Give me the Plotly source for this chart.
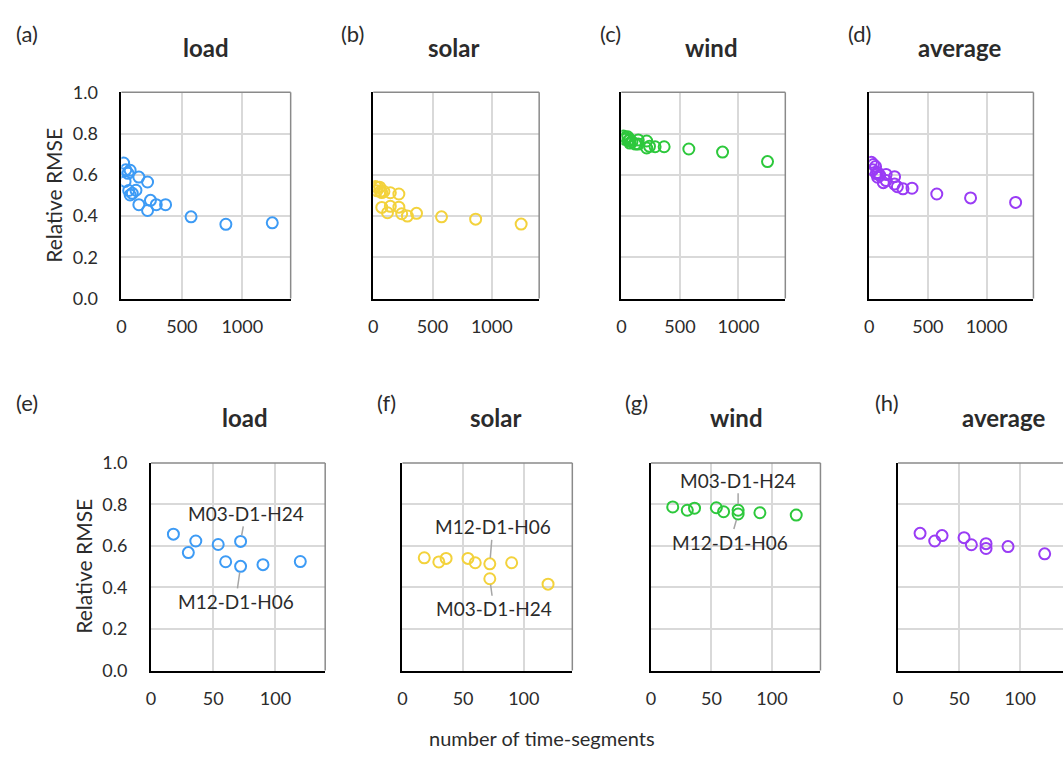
import plotly.graph_objects as go

W, H = 1063, 765
FONT = "Lato"
TEXT = "#2b2b2b"

# number of time-segments of each configuration
segments = [18, 30, 36, 54, 60, 72, 72, 90, 120, 144, 144, 216, 216, 240, 288, 365, 576, 864, 1248]

# relative RMSE per configuration
load = [0.657, 0.568, 0.624, 0.607, 0.524, 0.622, 0.502, 0.510, 0.525, 0.589,
        0.455, 0.565, 0.427, 0.476, 0.455, 0.455, 0.396, 0.360, 0.367]
solar = [0.543, 0.523, 0.540, 0.540, 0.519, 0.442, 0.514, 0.519, 0.416, 0.447,
         0.513, 0.443, 0.507, 0.411, 0.400, 0.413, 0.396, 0.385, 0.361]
wind = [0.788, 0.772, 0.782, 0.784, 0.765, 0.772, 0.754, 0.760, 0.749, 0.769,
        0.749, 0.764, 0.730, 0.738, 0.736, 0.736, 0.725, 0.710, 0.664]
average = [0.661, 0.624, 0.650, 0.640, 0.606, 0.611, 0.588, 0.597, 0.562, 0.602,
           0.572, 0.591, 0.555, 0.542, 0.532, 0.535, 0.507, 0.488, 0.466]

series_names = ["load", "solar", "wind", "average"]
series_values = [load, solar, wind, average]
series_colors = ["#3d9bf5", "#f3d23c", "#2dc83c", "#9a3cf5"]

# labelled configurations (index into the arrays above)
labelled = {"M03-D1-H24": 5, "M12-D1-H06": 6}
zoom_limit = 140  # lower row only shows configurations up to this many segments

top_letters = ["(a)", "(b)", "(c)", "(d)"]
bottom_letters = ["(e)", "(f)", "(g)", "(h)"]

# panel frames in pixels: (left, right, top, bottom)
top_frames = [(117, 287, 82.7, 295), (370, 536.7, 82.7, 295),
              (619.3, 784, 82.7, 295), (868.3, 1033.3, 82.7, 295)]
bottom_frames = [(146.7, 321.7, 464.3, 678), (399.3, 570, 464.3, 678),
                 (649, 819.3, 464.3, 678), (897.3, 1063, 464.3, 678)]
top_xrange = [0, 1400]
bottom_xranges = [[0, 140], [0, 140], [0, 140], [0, 135]]


def px(x):
    return x / W


def py(y):
    return 1 - y / H


fig = go.Figure()
layout = dict(width=W, height=H, margin=dict(l=0, r=0, t=0, b=0),
              paper_bgcolor="white", plot_bgcolor="white", showlegend=False,
              font=dict(family=FONT, size=18, color=TEXT))
shapes = []
annotations = []


def add_axes(idx, frame, xrange, dtick_x, show_y):
    l, r, t, b = frame
    xa = "xaxis" if idx == 1 else f"xaxis{idx}"
    ya = "yaxis" if idx == 1 else f"yaxis{idx}"
    yref = "y" if idx == 1 else f"y{idx}"
    xref = "x" if idx == 1 else f"x{idx}"
    layout[xa] = dict(domain=[px(l), min(px(r), 1.0)], range=xrange, anchor=yref,
                      dtick=dtick_x, tick0=0, showgrid=True, gridcolor="#d9d9d9",
                      gridwidth=1.5, zeroline=False, showline=True, linecolor="black",
                      linewidth=2, ticks="", ticklabelstandoff=11,
                      tickfont=dict(family=FONT, size=18, color=TEXT), fixedrange=True)
    layout[ya] = dict(domain=[py(b), py(t)], range=[0, 1], anchor=xref, dtick=0.2,
                      tick0=0, tickformat=".1f", showgrid=True, gridcolor="#d9d9d9",
                      gridwidth=1.5, zeroline=False, showline=True, linecolor="black",
                      linewidth=2, ticks="", showticklabels=show_y, ticklabelstandoff=18,
                      tickfont=dict(family=FONT, size=18, color=TEXT), fixedrange=True)
    # lighter top and right border of the frame
    shapes.append(dict(type="line", xref="paper", yref="paper", x0=px(l), x1=min(px(r), 1.0),
                       y0=py(t), y1=py(t), line=dict(color="#8a8a8a", width=1.5)))
    if r <= W - 1:
        shapes.append(dict(type="line", xref="paper", yref="paper", x0=px(r), x1=px(r),
                           y0=py(t), y1=py(b), line=dict(color="#8a8a8a", width=1.5)))
    return xref, yref


# upper row: all configurations
for i, (name, vals, color) in enumerate(zip(series_names, series_values, series_colors)):
    xref, yref = add_axes(i + 1, top_frames[i], top_xrange, 500, i == 0)
    fig.add_trace(go.Scatter(x=segments, y=vals, mode="markers", xaxis=xref, yaxis=yref,
                             marker=dict(symbol="circle-open", size=11, color=color,
                                         line=dict(width=2, color=color)),
                             hoverinfo="x+y"))

# lower row: configurations with few segments
for i, (name, vals, color) in enumerate(zip(series_names, series_values, series_colors)):
    xref, yref = add_axes(i + 5, bottom_frames[i], bottom_xranges[i], 50, i == 0)
    xs = [s for s in segments if s <= zoom_limit]
    ys = [v for s, v in zip(segments, vals) if s <= zoom_limit]
    fig.add_trace(go.Scatter(x=xs, y=ys, mode="markers", xaxis=xref, yaxis=yref,
                             marker=dict(symbol="circle-open", size=11, color=color,
                                         line=dict(width=2, color=color)),
                             hoverinfo="x+y"))

# callout offsets (pixels) for the labelled configurations in panels e, f, g
callouts = {
    (5, "M03-D1-H24"): (5, -28), (5, "M12-D1-H06"): (-5, 35),
    (6, "M12-D1-H06"): (3, -37), (6, "M03-D1-H24"): (4, 30),
    (7, "M03-D1-H24"): (0, -30), (7, "M12-D1-H06"): (-8, 28),
}
for (idx, label), (ax, ay) in callouts.items():
    vals = series_values[idx - 5]
    k = labelled[label]
    annotations.append(dict(x=segments[k], y=vals[k], xref=f"x{idx}", yref=f"y{idx}",
                            text=label, showarrow=True, arrowhead=0, arrowwidth=1.5,
                            arrowcolor="#a6a6a6", ax=ax, ay=ay, standoff=6,
                            font=dict(family=FONT, size=19, color=TEXT)))

# panel letters and titles
letter_pos_top = [(22, 22), (349, 22), (608, 22), (859, 22)]
title_pos_top = [(202, 37), (451, 37), (710, 37), (959, 37)]
letter_pos_bot = [(22, 402), (383, 402), (634, 402), (886, 402)]
title_pos_bot = [(241, 418), (493, 418), (735, 418), (1003, 418)]
for letters, lpos, tpos in ((top_letters, letter_pos_top, title_pos_top),
                            (bottom_letters, letter_pos_bot, title_pos_bot)):
    for letter, (lx, ly), (tx, ty), name in zip(letters, lpos, tpos, series_names):
        annotations.append(dict(x=px(lx), y=py(ly), xref="paper", yref="paper", text=letter,
                                showarrow=False, xanchor="center", yanchor="middle",
                                font=dict(family=FONT, size=22, color=TEXT)))
        annotations.append(dict(x=px(tx), y=py(ty), xref="paper", yref="paper",
                                text=f"<b>{name}</b>", showarrow=False, xanchor="center",
                                yanchor="middle", font=dict(family=FONT, size=24, color=TEXT)))

# axis titles
for x_pos, y_pos in ((48.5, 189), (78.5, 571)):
    annotations.append(dict(x=px(x_pos), y=py(y_pos), xref="paper", yref="paper",
                            text="Relative RMSE", textangle=-90, showarrow=False,
                            xanchor="center", yanchor="middle",
                            font=dict(family=FONT, size=21, color=TEXT)))
annotations.append(dict(x=px(540), y=py(748), xref="paper", yref="paper",
                        text="number of time-segments", showarrow=False,
                        xanchor="center", yanchor="middle",
                        font=dict(family=FONT, size=20, color=TEXT)))

layout["shapes"] = shapes
layout["annotations"] = annotations
fig.update_layout(**layout)
fig.write_html("out.html")
